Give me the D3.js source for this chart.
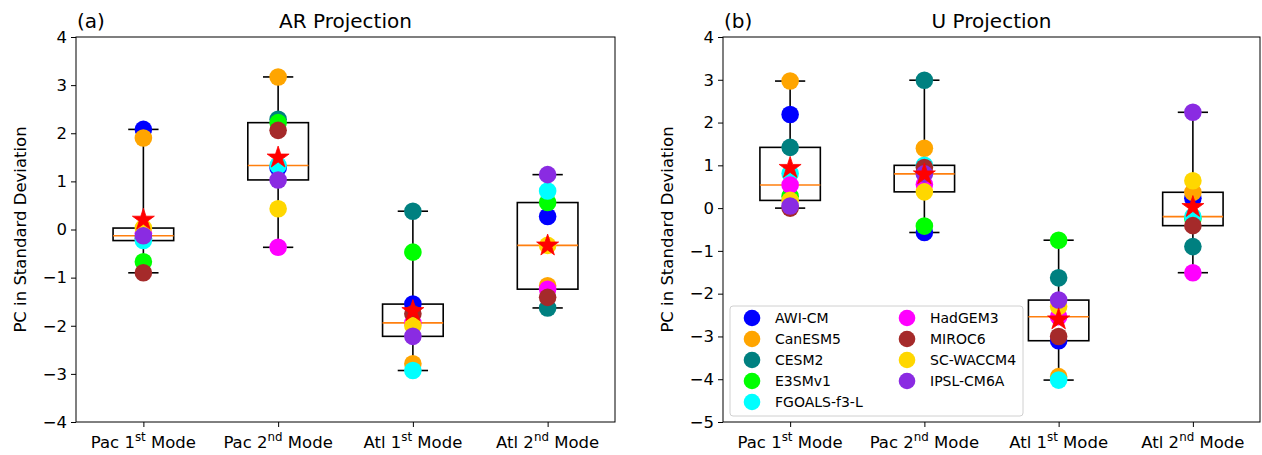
<!DOCTYPE html>
<html><head><meta charset="utf-8">
<script src="https://cdn.jsdelivr.net/npm/d3@7"></script>
<style>body{margin:0;background:#fff;} svg{display:block;font-family:"DejaVu Sans",sans-serif;}</style>
</head><body>
<svg id="chart" width="1262" height="455"></svg>
<script>
// ---- data ----
const categories = ["Pac 1", "Pac 2", "Atl 1", "Atl 2"];
const categorySup = ["st", "nd", "st", "nd"];
const models = ["AWI-CM", "CanESM5", "CESM2", "E3SMv1", "FGOALS-f3-L", "HadGEM3", "MIROC6", "SC-WACCM4", "IPSL-CM6A"];
const modelColors = ["#0000ff", "#ffa500", "#008080", "#00ff00", "#00ffff", "#ff00ff", "#a52a2a", "#ffd700", "#8a2be2"];
// values per category, in model order
const arPac1 = [2.08, 1.90, -0.18, -0.67, -0.23, -0.08, -0.90, 0.03, -0.13];
const arPac2 = [1.28, 3.17, 2.29, 2.22, 1.33, -0.37, 2.06, 0.43, 1.03];
const arAtl1 = [-1.55, -2.79, 0.38, -0.47, -2.93, -1.94, -1.75, -2.00, -2.22];
const arAtl2 = [0.27, -1.17, -1.63, 0.56, 0.80, -1.24, -1.41, -0.33, 1.14];
const uPac1 = [2.19, 2.97, 1.42, 0.28, 0.81, 0.54, 0.00, 0.18, 0.05];
const uPac2 = [-0.57, 1.40, 2.99, -0.42, 1.00, 0.55, 0.95, 0.38, 0.80];
const uAtl1 = [-3.10, -3.94, -1.63, -0.75, -4.02, -2.54, -3.00, -2.30, -2.15];
const uAtl2 = [0.23, 0.37, -0.90, -0.25, -0.20, -1.51, -0.41, 0.64, 2.24];
const arTicks = [-4, -3, -2, -1, 0, 1, 2, 3, 4];
const uTicks = [-5, -4, -3, -2, -1, 0, 1, 2, 3, 4];

const panels = [
  {label: "(a)", title: "AR Projection", data: [arPac1, arPac2, arAtl1, arAtl2], ticks: arTicks, yDomain: [-4, 4], x0: 76, x1: 615, legend: false},
  {label: "(b)", title: "U Projection", data: [uPac1, uPac2, uAtl1, uAtl2], ticks: uTicks, yDomain: [-5, 4], x0: 723, x1: 1260, legend: true}
];

const svg = d3.select("#chart");
const plotTop = 37, plotBottom = 422;
const fmt = d => d < 0 ? "\u2212" + Math.abs(d) : String(d);
const FS = 16.5;

panels.forEach(p => {
  const x = d3.scaleLinear().domain([0.5, 4.5]).range([p.x0, p.x1]);
  const y = d3.scaleLinear().domain(p.yDomain).range([plotBottom, plotTop]);
  const g = svg.append("g");
  const spacing = x(2) - x(1);
  const boxW = 0.45 * spacing, capW = boxW / 2;

  p.data.forEach((vals, i) => {
    const cx = x(i + 1);
    const s = vals.slice().sort(d3.ascending);
    const q1 = d3.quantile(s, 0.25), med = d3.quantile(s, 0.5), q3 = d3.quantile(s, 0.75);
    const lo = s[0], hi = s[s.length - 1];
    const bg = g.append("g");
    bg.append("line").attr("x1", cx).attr("x2", cx).attr("y1", y(q3)).attr("y2", y(hi)).attr("stroke", "#000").attr("stroke-width", 1.6);
    bg.append("line").attr("x1", cx).attr("x2", cx).attr("y1", y(q1)).attr("y2", y(lo)).attr("stroke", "#000").attr("stroke-width", 1.6);
    [lo, hi].forEach(v => bg.append("line").attr("x1", cx - capW / 2).attr("x2", cx + capW / 2).attr("y1", y(v)).attr("y2", y(v)).attr("stroke", "#000").attr("stroke-width", 1.6));
    bg.append("rect").attr("x", cx - boxW / 2).attr("y", y(q3)).attr("width", boxW).attr("height", y(q1) - y(q3)).attr("fill", "none").attr("stroke", "#000").attr("stroke-width", 1.6);
    bg.append("line").attr("x1", cx - boxW / 2).attr("x2", cx + boxW / 2).attr("y1", y(med)).attr("y2", y(med)).attr("stroke", "#ff7f0e").attr("stroke-width", 1.6);
  });
  p.data.forEach((vals, i) => {
    const cx = x(i + 1);
    vals.forEach((v, m) => g.append("circle").attr("cx", cx).attr("cy", y(v)).attr("r", 8.8).attr("fill", modelColors[m]));
  });
  p.data.forEach((vals, i) => {
    const cx = x(i + 1);
    g.append("path").attr("d", d3.symbol(d3.symbolStar, 150)()).attr("transform", `translate(${cx},${y(d3.mean(vals))})`).attr("fill", "#ff0000").attr("stroke", "#ff0000").attr("stroke-width", 0.8);
  });

  // frame
  g.append("rect").attr("x", p.x0).attr("y", plotTop).attr("width", p.x1 - p.x0).attr("height", plotBottom - plotTop).attr("fill", "none").attr("stroke", "#000").attr("stroke-width", 1);

  // y axis
  const ya = g.append("g").attr("transform", `translate(${p.x0},0)`).call(d3.axisLeft(y).tickValues(p.ticks).tickFormat(fmt).tickSize(5).tickPadding(4));
  ya.select(".domain").remove();
  ya.selectAll("text").attr("font-size", FS).attr("fill", "#000").attr("font-family", "DejaVu Sans");
  ya.selectAll("line").attr("stroke", "#000");
  // x axis
  const xa = g.append("g").attr("transform", `translate(0,${plotBottom})`).call(d3.axisBottom(x).tickValues([1, 2, 3, 4]).tickFormat("").tickSize(5));
  xa.select(".domain").remove();
  xa.selectAll("line").attr("stroke", "#000");
  categories.forEach((c, i) => {
    const t = g.append("text").attr("x", x(i + 1)).attr("y", 448).attr("text-anchor", "middle").attr("font-size", FS).attr("fill", "#000");
    t.append("tspan").text(c);
    t.append("tspan").text(categorySup[i]).attr("font-size", FS * 0.72).attr("dy", -7);
    t.append("tspan").text(" Mode").attr("dy", 7);
  });
  g.append("text").attr("transform", `translate(${p.x0 - 50},${(plotTop + plotBottom) / 2}) rotate(-90)`).attr("text-anchor", "middle").attr("font-size", FS).attr("fill", "#000").text("PC in Standard Deviation");
  g.append("text").attr("x", (p.x0 + p.x1) / 2).attr("y", 28).attr("text-anchor", "middle").attr("font-size", 20).attr("fill", "#000").text(p.title);
  g.append("text").attr("x", p.x0 + 1).attr("y", 28).attr("font-size", 20).attr("fill", "#000").text(p.label);

  if (p.legend) {
    const lg = g.append("g");
    lg.append("rect").attr("x", 730).attr("y", 306).attr("width", 293).attr("height", 110).attr("rx", 3).attr("fill", "#fff").attr("fill-opacity", 0.8).attr("stroke", "#d0d0d0").attr("stroke-width", 1);
    models.forEach((m, k) => {
      const col = k < 5 ? 0 : 1, row = k < 5 ? k : k - 5;
      const mx = col === 0 ? 752 : 907, my = 318 + row * 21;
      lg.append("circle").attr("cx", mx).attr("cy", my).attr("r", 8.3).attr("fill", modelColors[k]);
      lg.append("text").attr("x", mx + 23).attr("y", my + 5).attr("font-size", 14).attr("fill", "#000").text(m);
    });
  }
});
</script>
</body></html>
